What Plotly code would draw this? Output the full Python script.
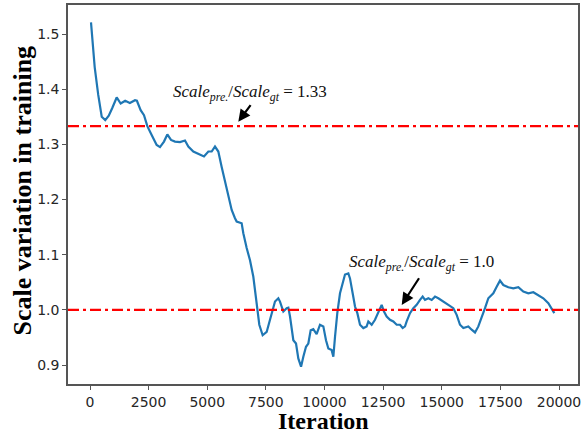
import plotly.graph_objects as go

iterations = [43, 200, 350, 500, 650, 800, 950, 1138, 1308, 1500, 1700, 1919, 2000, 2160, 2303, 2445,
              2630, 2843, 2985, 3155, 3298, 3454, 3625, 3838, 4051, 4193, 4406, 4691, 4861, 5047, 5188,
              5330, 5472, 5615, 5757, 5898, 6042, 6183, 6254, 6468, 6538, 6681, 6823, 6965, 7108, 7220,
              7363, 7534, 7676, 7889, 8031, 8102, 8245, 8387, 8458, 8529, 8671, 8785, 8883, 9000, 9097,
              9211, 9310, 9410, 9522, 9665, 9808, 9950, 10064, 10164, 10306, 10377, 10448, 10546, 10661,
              10803, 10874, 11016, 11087, 11201, 11301, 11401, 11514, 11656, 11798, 11869, 12012, 12154,
              12296, 12438, 12537, 12651, 12793, 12935, 13078, 13220, 13334, 13433, 13504, 13646, 13788,
              13930, 14073, 14186, 14286, 14428, 14571, 14712, 14854, 15068, 15281, 15494, 15636, 15778,
              15920, 16133, 16276, 16418, 16560, 16703, 16844, 16986, 17199, 17342, 17484, 17625, 17839,
              18052, 18265, 18478, 18692, 18905, 19118, 19331, 19545, 19687, 19800]
scale_variation = [1.521, 1.440, 1.390, 1.350, 1.344, 1.352, 1.366, 1.385, 1.374, 1.379, 1.375, 1.380,
                   1.379, 1.362, 1.353, 1.333, 1.317, 1.299, 1.295, 1.305, 1.318, 1.308, 1.305, 1.304,
                   1.307, 1.296, 1.287, 1.282, 1.278, 1.287, 1.287, 1.296, 1.287, 1.259, 1.234, 1.208,
                   1.181, 1.166, 1.160, 1.157, 1.139, 1.112, 1.090, 1.060, 1.012, 0.973, 0.954, 0.960,
                   0.982, 1.015, 1.021, 1.015, 0.997, 1.003, 1.004, 0.988, 0.945, 0.939, 0.912, 0.897,
                   0.915, 0.933, 0.939, 0.963, 0.965, 0.956, 0.973, 0.970, 0.945, 0.930, 0.927, 0.915,
                   0.951, 0.994, 1.030, 1.054, 1.064, 1.066, 1.057, 1.030, 1.006, 0.994, 0.973, 0.967,
                   0.970, 0.979, 0.973, 0.982, 0.994, 1.009, 0.997, 0.988, 0.982, 0.979, 0.973, 0.973,
                   0.967, 0.970, 0.979, 0.994, 1.003, 1.009, 1.018, 1.024, 1.018, 1.021, 1.018, 1.024,
                   1.021, 1.015, 1.009, 1.003, 0.991, 0.973, 0.967, 0.970, 0.964, 0.959, 0.970, 0.985,
                   1.003, 1.021, 1.030, 1.042, 1.053, 1.045, 1.041, 1.039, 1.041, 1.033, 1.030, 1.032,
                   1.027, 1.021, 1.012, 1.003, 0.994]

ref_levels = [1.333, 1.0]
ref_labels = ["1.33", "1.0"]
x_ticks = [0, 2500, 5000, 7500, 10000, 12500, 15000, 17500, 20000]
y_ticks = [0.9, 1.0, 1.1, 1.2, 1.3, 1.4, 1.5]
x_title = "Iteration"
y_title = "Scale variation in training"

fig = go.Figure()
fig.add_trace(go.Scatter(x=iterations, y=scale_variation, mode="lines",
                         line=dict(color="#1f77b4", width=2.2), showlegend=False))

for lvl in ref_levels:
    fig.add_hline(y=lvl, line=dict(color="#ff0000", width=2.2, dash="11px,4px,3px,4px"))

# annotations: text + arrow
ann_text_pos = [(6810, 1.393), (14136, 1.085)]
arrow_head = [(6324, 1.341), (13292, 1.009)]
arrow_tail = [(6896, 1.374), (14072, 1.060)]
for (tx, ty), lab, (hx, hy), (ax_, ay_) in zip(ann_text_pos, ref_labels, arrow_head, arrow_tail):
    fig.add_annotation(x=tx, y=ty, xref="x", yref="y", showarrow=False,
                       text="<i>Scale</i><sub><i>pre.</i></sub>/<i>Scale</i><sub><i>gt</i></sub> = " + lab,
                       font=dict(family="Liberation Serif", size=17, color="#111"))
    fig.add_annotation(x=hx, y=hy, ax=ax_, ay=ay_, xref="x", yref="y", axref="x", ayref="y",
                       text="", showarrow=True, arrowhead=2, arrowsize=1.1, arrowwidth=2.2,
                       arrowcolor="black")

# axis titles
fig.add_annotation(x=0.5, y=0, xref="paper", yref="paper", yanchor="middle", yshift=-37,
                   text="<b>" + x_title + "</b>", showarrow=False,
                   font=dict(family="Liberation Serif", size=24, color="black"))
fig.add_annotation(x=0, y=0.5, xref="paper", yref="paper", xanchor="center", xshift=-46, yshift=4,
                   textangle=-90, text="<b>" + y_title + "</b>", showarrow=False,
                   font=dict(family="Liberation Serif", size=26, color="black"))

axis_common = dict(showline=True, linecolor="#555", linewidth=1.5, mirror=True,
                   ticks="outside", ticklen=4, tickcolor="#555", tickwidth=1.2,
                   showgrid=False, zeroline=False, automargin=False,
                   tickfont=dict(family="DejaVu Sans", size=14, color="#262626"))

fig.update_xaxes(range=[-938, 20810], tickvals=x_ticks, ticktext=[str(v) for v in x_ticks],
                 **axis_common)
fig.update_yaxes(range=[0.8656, 1.5526], tickvals=y_ticks, ticktext=[f"{v:.1f}" for v in y_ticks],
                 **axis_common)

fig.update_layout(width=584, height=436, margin=dict(l=68, r=6, t=5, b=52),
                  plot_bgcolor="white", paper_bgcolor="white")

fig.write_html("out.html", config={"displayModeBar": False},
               post_script="document.body.style.margin='0';document.body.style.overflow='hidden';")
